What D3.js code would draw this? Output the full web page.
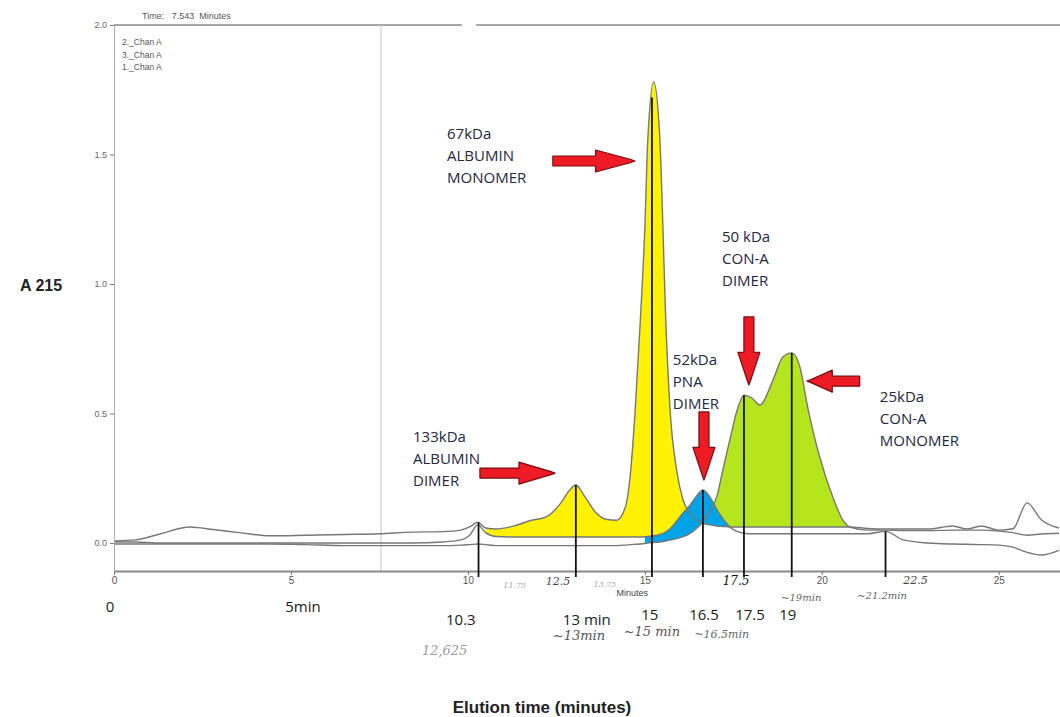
<!DOCTYPE html>
<html>
<head>
<meta charset="utf-8">
<script src="https://cdn.jsdelivr.net/npm/d3@7"></script>
<style>
body { margin: 0; background: #fff; }
svg { display: block; }
</style>
</head>
<body>
<svg id="chart" width="1060" height="717"></svg>
<script>
// elution times (minutes), shared by the three traces
const TIMES = [
	0, 0.6, 1.3, 2.15, 2.8, 3.6, 4.4, 5.4, 6.5, 7.5, 8.4, 9.3,
	9.8, 10.05, 10.28, 10.5, 10.8, 11.3, 11.8, 12.2, 12.6, 12.85, 13.05, 13.3,
	13.6, 13.9, 14.2, 14.45, 14.6, 14.72, 14.86, 15.0, 15.08, 15.25, 15.42, 15.51,
	15.58, 15.71, 15.9, 16.07, 16.27, 16.45, 16.64, 16.85, 17.03, 17.2, 17.4, 17.6,
	17.8, 18.02, 18.25, 18.62, 18.9, 19.15, 19.38, 19.6, 19.94, 20.31, 20.59, 20.79,
	21.3, 21.8, 22.3, 23.0, 23.7, 24.1, 24.5, 25.0, 25.4, 25.8, 26.2, 26.7
];
// A215 readings of each run
const ALBUMIN = [
	0.008, 0.012, 0.035, 0.062, 0.052, 0.039, 0.028, 0.030, 0.033, 0.036, 0.042, 0.044,
	0.050, 0.062, 0.080, 0.058, 0.054, 0.066, 0.088, 0.100, 0.150, 0.200, 0.224, 0.180,
	0.120, 0.092, 0.088, 0.140, 0.280, 0.500, 0.830, 1.220, 1.550, 1.780, 1.570, 1.220,
	0.900, 0.520, 0.280, 0.170, 0.115, 0.088, 0.076, 0.070, 0.066, 0.064, 0.062, 0.062,
	0.062, 0.062, 0.062, 0.062, 0.062, 0.062, 0.062, 0.062, 0.062, 0.062, 0.062, 0.062,
	0.056, 0.054, 0.054, 0.054, 0.066, 0.054, 0.066, 0.050, 0.055, 0.155, 0.090, 0.058
];
const PNA = [
	0.004, 0.004, 0.000, 0.000, 0.000, 0.000, 0.000, 0.000, 0.000, 0.000, 0.000, 0.004,
	0.012, 0.030, 0.070, 0.040, 0.025, 0.023, 0.023, 0.023, 0.023, 0.023, 0.023, 0.023,
	0.023, 0.023, 0.023, 0.023, 0.023, 0.023, 0.023, 0.024, 0.025, 0.028, 0.033, 0.037,
	0.042, 0.055, 0.085, 0.115, 0.145, 0.180, 0.205, 0.175, 0.130, 0.095, 0.062, 0.045,
	0.038, 0.036, 0.036, 0.036, 0.036, 0.036, 0.036, 0.036, 0.036, 0.036, 0.036, 0.036,
	0.036, 0.045, 0.012, 0.000, -0.004, -0.005, -0.006, -0.008, -0.016, -0.036, -0.046, -0.028
];
const CONA = [
	-0.004, -0.004, -0.004, -0.004, -0.004, -0.004, -0.004, -0.006, -0.010, -0.010, -0.010, -0.010,
	-0.008, -0.006, -0.004, -0.006, -0.010, -0.010, -0.010, -0.010, -0.010, -0.010, -0.010, -0.010,
	-0.010, -0.010, -0.010, -0.008, -0.006, -0.005, -0.004, -0.002, 0.000, 0.002, 0.004, 0.006,
	0.008, 0.011, 0.017, 0.024, 0.036, 0.055, 0.082, 0.125, 0.178, 0.280, 0.398, 0.510,
	0.571, 0.560, 0.533, 0.629, 0.718, 0.734, 0.680, 0.525, 0.332, 0.178, 0.089, 0.062,
	0.050, 0.050, 0.048, 0.048, 0.050, 0.050, 0.050, 0.046, 0.040, 0.030, 0.035, 0.038
];

const X_TICKS = [0, 5, 10, 15, 20, 25];
const Y_TICKS = [0, 0.5, 1.0, 1.5, 2.0];
const LEGEND = ["2._Chan A", "3._Chan A", "1._Chan A"];
const CURSOR_TIME = 7.543;
// peak apexes marked with a black line down to the axis
const PEAK_TIMES = [10.3, 13.05, 15.2, 16.64, 17.8, 19.15, 21.8];
const PEAK_VALUES = [0.08, 0.224, 1.72, 0.205, 0.571, 0.734, 0.045];
// typed labels under the axis (time they sit under)
const TIME_LABEL_TEXT = ["0", "5min", "10.3", "13 min", "15", "16.5", "17.5", "19"];
const TIME_LABEL_AT = [-0.11, 5.34, 9.8, 13.36, 15.14, 16.67, 17.97, 19.04];

const svg = d3.select("#chart");
const x = d3.scaleLinear().domain([0, 26.73]).range([114, 1060]);
const y = d3.scaleLinear().domain([-0.108, 2]).range([571, 25]);
const idx = d3.range(TIMES.length);
const SMALL = "'Liberation Sans', Arial, sans-serif";
const NOTE = "'Open Sans', 'Noto Sans', sans-serif";

svg.append("rect").attr("width", 1060).attr("height", 717).attr("fill", "#fff");

// frame: top border (with a gap), cursor line
[[0, 9.83], [10.23, 26.73]].forEach(([a, b]) => {
	svg.append("line")
		.attr("x1", x(a)).attr("x2", x(b))
		.attr("y1", y(2)).attr("y2", y(2))
		.attr("stroke", "#8a8a8a").attr("stroke-width", 1.3);
});
svg.append("line")
	.attr("x1", x(CURSOR_TIME)).attr("x2", x(CURSOR_TIME))
	.attr("y1", y(2)).attr("y2", y(-0.108))
	.attr("stroke", "#c4c4c4").attr("stroke-width", 1);

// filled peaks
const fills = [
	{color: "#fff200", from: 10.5, to: 16.64, hi: ALBUMIN, lo: (i) => Math.min(PNA[i], ALBUMIN[i])},
	{color: "#b5e61d", from: 16.45, to: 20.79, hi: CONA, lo: (i) => Math.min(CONA[i], ALBUMIN[i])},
	{color: "#00a2e8", from: 14.9, to: 17.4, hi: PNA, lo: (i) => Math.min(PNA[i], CONA[i], ALBUMIN[i])}
];
fills.forEach((f) => {
	const area = d3.area()
		.defined((i) => TIMES[i] >= f.from && TIMES[i] <= f.to)
		.x((i) => x(TIMES[i]))
		.y0((i) => y(f.lo(i)))
		.y1((i) => y(f.hi[i]))
		.curve(d3.curveMonotoneX);
	svg.append("path").attr("d", area(idx)).attr("fill", f.color);
});

// traces
[ALBUMIN, PNA, CONA].forEach((series) => {
	const line = d3.line()
		.x((i) => x(TIMES[i]))
		.y((i) => y(series[i]))
		.curve(d3.curveMonotoneX);
	svg.append("path").attr("d", line(idx))
		.attr("fill", "none").attr("stroke", "#777").attr("stroke-width", 1.4);
});

// axes
const xAxis = svg.append("g")
	.attr("transform", `translate(0,${y(-0.108)})`)
	.call(d3.axisBottom(x).tickValues(X_TICKS).tickSize(4).tickSizeOuter(0));
xAxis.select(".domain").attr("stroke", "#8a8a8a").attr("stroke-width", 2);
xAxis.selectAll(".tick line").attr("stroke", "#777");
xAxis.selectAll("text").attr("fill", "#555").style("font", `10px ${SMALL}`).attr("dy", "0.6em");

const yAxis = svg.append("g")
	.attr("transform", `translate(${x(0)},0)`)
	.call(d3.axisLeft(y).tickValues(Y_TICKS).tickFormat(d3.format(".1f")).tickSize(4).tickSizeOuter(0));
yAxis.select(".domain").attr("stroke", "#aaa").attr("stroke-width", 1);
yAxis.selectAll(".tick line").attr("stroke", "#777");
yAxis.selectAll("text").attr("fill", "#666").style("font", `9px ${SMALL}`);

svg.append("text").attr("x", x(14.2)).attr("y", y(-0.108) + 25)
	.style("font", `9px ${SMALL}`).attr("fill", "#444").text("Minutes");

// header and legend
svg.append("text").attr("x", 142).attr("y", 19)
	.style("font", `9px ${SMALL}`).attr("fill", "#555")
	.attr("xml:space", "preserve")
	.text(`Time:   ${CURSOR_TIME}  Minutes`);
svg.selectAll(".legend").data(LEGEND).enter().append("text")
	.attr("x", 122).attr("y", (d, i) => 45 + i * 12.5)
	.style("font", `8.5px ${SMALL}`).attr("fill", "#555")
	.text((d) => d);

// peak marker lines
PEAK_TIMES.forEach((t, i) => {
	svg.append("line")
		.attr("x1", x(t)).attr("x2", x(t))
		.attr("y1", y(PEAK_VALUES[i])).attr("y2", y(-0.108) + 6)
		.attr("stroke", "#111").attr("stroke-width", 1.8);
});

// red block arrows, given in data coordinates
function arrow(t1, v1, t2, v2) {
	const x1 = x(t1), y1 = y(v1), x2 = x(t2), y2 = y(v2);
	const len = Math.hypot(x2 - x1, y2 - y1);
	const head = len * 0.48;
	const g = svg.append("g")
		.attr("transform", `translate(${x1},${y1}) rotate(${Math.atan2(y2 - y1, x2 - x1) * 180 / Math.PI})`);
	g.append("path")
		.attr("d", `M0,-5 L${len - head},-5 L${len - head},-11 L${len - 4},-1.5 L${len},0 L${len - 4},1.5 L${len - head},11 L${len - head},5 L0,5 Z`)
		.attr("fill", "#ed1c24").attr("stroke", "#7d0a0e").attr("stroke-width", 1.2)
		.attr("stroke-linejoin", "round");
}
arrow(12.4, 1.475, 14.72, 1.475);
arrow(10.34, 0.27, 12.46, 0.27);
arrow(16.67, 0.506, 16.67, 0.243);
arrow(17.94, 0.873, 17.94, 0.61);
arrow(21.07, 0.625, 19.58, 0.625);

// annotations
function note(t, v, lines) {
	svg.append("text")
		.attr("x", x(t)).attr("y", y(v))
		.style("font", `15px ${NOTE}`).attr("fill", "#25253f")
		.selectAll("tspan").data(lines).enter().append("tspan")
		.attr("x", x(t)).attr("dy", (d, i) => (i ? 22 : 0))
		.text((d) => d);
}
note(9.41, 1.56, ["67kDa", "ALBUMIN", "MONOMER"]);
note(8.45, 0.39, ["133kDa", "ALBUMIN", "DIMER"]);
note(17.18, 1.162, ["50 kDa", "CON-A", "DIMER"]);
note(15.79, 0.687, ["52kDa", "PNA", "DIMER"]);
note(21.64, 0.544, ["25kDa", "CON-A", "MONOMER"]);

// typed time labels below the axis
svg.selectAll(".tlabel").data(TIME_LABEL_TEXT).enter().append("text")
	.attr("x", (d, i) => x(TIME_LABEL_AT[i]))
	.attr("y", (d, i) => (i < 2 ? 612 : i < 4 ? 625 : 620))
	.attr("text-anchor", "middle")
	.style("font", `15px ${NOTE}`).attr("fill", "#1a1a1a")
	.text((d) => d);

// pencil notes
const HAND = "'DejaVu Serif', serif";
[
	["~13min", 12.4, 640, 13, "#555"],
	["~15 min", 14.4, 636, 13, "#555"],
	["~16.5min", 16.4, 638, 11, "#666"],
	["~19min", 18.85, 601, 10, "#666"],
	["~21.2min", 21.0, 599, 10, "#666"],
	["12.5", 12.2, 585, 11, "#444"],
	["17.5", 17.2, 585, 12, "#111"],
	["22.5", 22.3, 584, 11, "#444"],
	["11.75", 11.0, 588, 8, "#aaa"],
	["13.75", 13.55, 587, 8, "#aaa"],
	["12,625", 8.7, 655, 13, "#999"]
].forEach(([s, t, py, size, color]) => {
	svg.append("text").attr("x", x(t)).attr("y", py)
		.style("font", `italic ${size}px ${HAND}`).attr("fill", color).text(s);
});

// axis titles
svg.append("text").attr("x", 20).attr("y", 291)
	.style("font", `bold 16px ${SMALL}`).attr("fill", "#222").text("A 215");
svg.append("text").attr("x", 542).attr("y", 713).attr("text-anchor", "middle")
	.style("font", `bold 17px ${SMALL}`).attr("fill", "#222").text("Elution time (minutes)");
</script>
</body>
</html>
